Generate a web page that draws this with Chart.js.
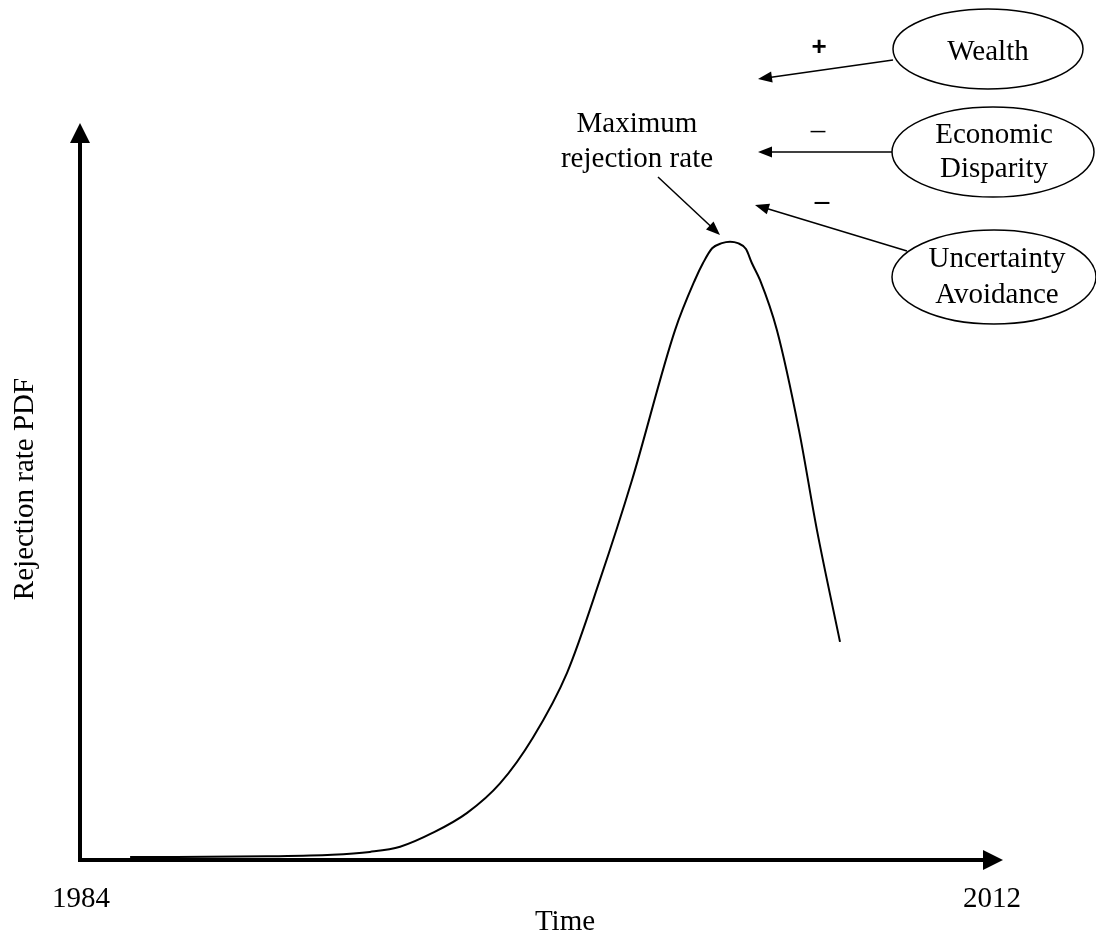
<!DOCTYPE html>
<html>
<head>
<meta charset="utf-8">
<title>Rejection rate PDF</title>
<script src="https://cdn.jsdelivr.net/npm/chart.js@4"></script>
<style>
    html, body { margin: 0; padding: 0; background: #fff; }
    canvas { display: block; }
</style>
</head>
<body>
<canvas id="chart" width="1096" height="932"></canvas>
<script>
// data (x in years, y in arbitrary pdf units 0-100)
const years = [1985.54, 1989.75, 1991.75, 1992.91, 1993.84, 1994.85, 1995.90, 1996.91, 1997.92, 1998.97,
    1999.98, 2000.97, 2002.29, 2002.90, 2003.15, 2003.43, 2003.73, 2003.98, 2004.22, 2004.47,
    2004.65, 2004.90, 2005.42, 2006.10, 2006.65, 2007.36]
const pdfValues = [0.4, 0.5, 0.7, 1.1, 1.8, 3.7, 6.4, 10.4, 16.6, 25.4,
    38.0, 51.6, 71.9, 78.7, 81.0, 83.0, 83.7, 83.9, 83.7, 82.9,
    81.0, 78.7, 71.9, 58.3, 44.8, 29.6]

// axis labels
const tickYears = [1984, 2012]
const tickLabels = ['1984', '2012']
const xTitle = 'Time'
const yTitle = 'Rejection rate PDF'

// annotation texts
const peakLabel = ['Maximum', 'rejection rate']
const factorNames = [['Wealth'], ['Economic', 'Disparity'], ['Uncertainty', 'Avoidance']]
const factorSigns = ['+', '\u2013', '\u2013']

const serif = '"Liberation Serif", "Times New Roman", serif'

function arrowHead (ctx, x1, y1, x2, y2, len, half) {
    const a = Math.atan2(y2 - y1, x2 - x1)
    ctx.beginPath()
    ctx.moveTo(x2, y2)
    ctx.lineTo(x2 - len * Math.cos(a) + half * Math.sin(a), y2 - len * Math.sin(a) - half * Math.cos(a))
    ctx.lineTo(x2 - len * Math.cos(a) - half * Math.sin(a), y2 - len * Math.sin(a) + half * Math.cos(a))
    ctx.closePath()
    ctx.fill()
}

function arrow (ctx, x1, y1, x2, y2) {
    const a = Math.atan2(y2 - y1, x2 - x1)
    ctx.beginPath()
    ctx.moveTo(x1, y1)
    ctx.lineTo(x2 - 8 * Math.cos(a), y2 - 8 * Math.sin(a))
    ctx.stroke()
    arrowHead(ctx, x1, y1, x2, y2, 14, 5.5)
}

// axes with arrow heads, drawn under the curve
const axesPlugin = {
    id: 'axes',
    beforeDatasetsDraw (chart) {
        const ctx = chart.ctx
        const area = chart.chartArea
        ctx.save()
        ctx.fillStyle = '#000'
        ctx.strokeStyle = '#000'
        ctx.lineWidth = 4
        ctx.beginPath()
        ctx.moveTo(area.left, area.bottom + 2)
        ctx.lineTo(area.left, area.top + 15)
        ctx.moveTo(area.left - 2, area.bottom)
        ctx.lineTo(area.right - 15, area.bottom)
        ctx.stroke()
        arrowHead(ctx, area.left, area.bottom, area.left, area.top, 20, 10)
        arrowHead(ctx, area.left, area.bottom, area.right, area.bottom, 20, 10)
        ctx.restore()
    }
}

// labels, titles and the causal diagram on the right
const textPlugin = {
    id: 'texts',
    afterDraw (chart) {
        const ctx = chart.ctx
        const x = chart.scales.x
        ctx.save()
        ctx.fillStyle = '#000'
        ctx.strokeStyle = '#000'
        ctx.font = '29px ' + serif
        ctx.textAlign = 'center'
        ctx.textBaseline = 'alphabetic'

        tickYears.forEach((yr, i) => {
            ctx.fillText(tickLabels[i], x.getPixelForValue(yr) + 1, 907)
        })
        ctx.fillText(xTitle, 565, 930)

        ctx.save()
        ctx.translate(33, 489)
        ctx.rotate(-Math.PI / 2)
        ctx.fillText(yTitle, 0, 0)
        ctx.restore()

        // peak label + arrow
        ctx.fillText(peakLabel[0], 637, 132)
        ctx.fillText(peakLabel[1], 637, 167)
        ctx.lineWidth = 1.5
        arrow(ctx, 658, 177, 720, 235)

        // ellipses
        const ellipses = [[988, 49, 95, 40], [993, 152, 101, 45], [994, 277, 102, 47]]
        const textLines = [[[988, 60]], [[994, 143], [994, 177]], [[997, 267], [997, 303]]]
        ellipses.forEach((e, i) => {
            ctx.beginPath()
            ctx.ellipse(e[0], e[1], e[2], e[3], 0, 0, Math.PI * 2)
            ctx.stroke()
            factorNames[i].forEach((name, j) => {
                ctx.fillText(name, textLines[i][j][0], textLines[i][j][1])
            })
        })

        // influence arrows
        arrow(ctx, 893, 60, 758, 79)
        arrow(ctx, 892, 152, 758, 152)
        arrow(ctx, 907, 251, 755, 205)

        // signs
        ctx.font = 'bold 26px "Liberation Sans", sans-serif'
        ctx.textBaseline = 'middle'
        ctx.fillText(factorSigns[0], 819, 48)
        ctx.font = '29px ' + serif
        ctx.fillText(factorSigns[1], 818, 131)
        ctx.font = 'bold 29px ' + serif
        ctx.fillText(factorSigns[2], 822, 203)
        ctx.restore()
    }
}

const chartData = {
    datasets: [{
        label: yTitle,
        data: years.map((yr, i) => ({x: yr, y: pdfValues[i]})),
        borderColor: '#000',
        borderWidth: 2,
        pointRadius: 0,
        fill: false,
        cubicInterpolationMode: 'monotone'
    }]
}

const configs = {
    type: 'line',
    data: chartData,
    options: {
        responsive: false,
        animation: false,
        layout: {
            padding: {left: 80, right: 93, top: 123, bottom: 72}
        },
        plugins: {
            legend: {display: false},
            tooltip: {enabled: false}
        },
        scales: {
            x: {type: 'linear', min: 1984, max: 2012.37, display: false},
            y: {min: 0, max: 100, display: false}
        }
    },
    plugins: [axesPlugin, textPlugin]
}

new Chart(document.getElementById('chart'), configs)
</script>
</body>
</html>
